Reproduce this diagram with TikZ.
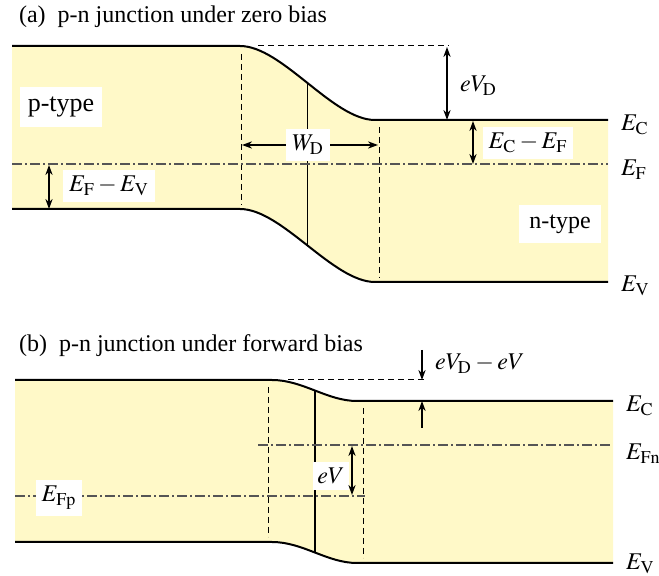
\documentclass[tikz,border=0pt]{standalone}
\usepackage{mathptmx}
\usepackage{fontspec}
\setmainfont{Liberation Serif}
\newfontfamily\labelfont{Liberation Serif}
\usetikzlibrary{arrows.meta}
\definecolor{bandfill}{RGB}{255,249,200}
\definecolor{fermigray}{RGB}{85,85,85}

\begin{document}
\begin{tikzpicture}[
    x=0.5pt,y=-0.5pt,>={Stealth[length=5pt,width=3.6pt]},
    font=\labelfont\fontsize{12}{14}\selectfont,
    band/.style={draw=black,line width=1pt},
    guide/.style={draw=black,line width=0.5pt,dash pattern=on 3pt off 2pt},
    fermi/.style={draw=fermigray,line width=0.8pt,dash pattern=on 5pt off 1.5pt on 1pt off 1.5pt},
    gap/.style={<->,line width=0.7pt},
    tag/.style={fill=white,inner xsep=3pt,inner ysep=3pt},
    title/.style={anchor=base west,font=\labelfont\fontsize{12}{14}\selectfont}
]
\useasboundingbox (0,0) rectangle (659,576);
% (a) zero bias: bands.
\fill[bandfill] (12,46) -- (240,46) .. controls (282,46) and (333,120) .. (375,120)
    -- (608,120) -- (608,282) -- (375,282)
    .. controls (333,282) and (282,209) .. (240,209) -- (12,209) -- cycle;
\draw[band] (12,46) -- (240,46) .. controls (282,46) and (333,120) .. (375,120)
    coordinate[pos=0.5] (ecmidA) -- (608,120);
\draw[band] (12,209) -- (240,209) .. controls (282,209) and (333,282) .. (375,282)
    coordinate[pos=0.5] (evmidA) -- (608,282);
\draw[line width=0.7pt] (ecmidA) -- (evmidA);
% Depletion edges and Fermi level.
\draw[guide] (241,54) -- (241,205);
\draw[guide] (379,127) -- (379,278);
\draw[guide] (258,46) -- (449,46);
\draw[fermi] (12,164) -- (608,164);
% Gap markers.
\node[tag] (cfA) at (528,143) {$E_{\mathrm{C}}-E_{\mathrm{F}}$};
\node[tag] (wdA) at (308,145) {$W_{\mathrm{D}}$};
\node[tag] (fvA) at (109,186) {$E_{\mathrm{F}}-E_{\mathrm{V}}$};
\node[anchor=west] (vdA) at (453,86) {$eV_{\mathrm{D}}$};
\coordinate (vdtopA) at (447,47);
\coordinate (vdbotA) at (447,120);
\draw[gap] (vdtopA) -- (vdbotA);
\coordinate (cftopA) at (473,121);
\coordinate (cfbotA) at (473,164);
\draw[gap] (cftopA) -- (cfbotA);
\coordinate (wleftA) at (242,145);
\coordinate (wrightA) at (378,145);
\draw[->,line width=0.7pt] (wdA.west |- wleftA) -- (wleftA);
\draw[->,line width=0.7pt] (wdA.east |- wrightA) -- (wrightA);
\coordinate (fvtopA) at (49,165);
\coordinate (fvbotA) at (49,209);
\draw[gap] (fvtopA) -- (fvbotA);
\node[tag,inner xsep=4pt,inner ysep=5pt,font=\labelfont\fontsize{13}{15}\selectfont] (ptype) at (61,107) {p-type};
\node[tag,inner xsep=5pt,inner ysep=5pt] (ntype) at (560,224) {n-type};
% Level names, right side.
\node[anchor=base west] (ecA) at (614,131) {$E_{\mathrm{C}}$};
\node[anchor=base west] (efA) at (614,176) {$E_{\mathrm{F}}$};
\node[anchor=base west] (evA) at (614,292) {$E_{\mathrm{V}}$};
\node[title] (titleA) at (12,23) {(a)\ \ p-n junction under zero bias};
% (b) forward bias: bands.
\fill[bandfill] (15,380) -- (272,380) .. controls (303,380) and (327,401) .. (357,401)
    -- (613,401) -- (613,563) -- (357,563)
    .. controls (327,563) and (303,542) .. (272,542) -- (15,542) -- cycle;
\draw[band] (15,380) -- (272,380) .. controls (303,380) and (327,401) .. (357,401)
    coordinate[pos=0.5] (ecmidB) -- (613,401);
\draw[band] (15,542) -- (272,542) .. controls (303,542) and (327,563) .. (357,563)
    coordinate[pos=0.5] (evmidB) -- (613,563);
\draw[line width=0.7pt] (ecmidB) -- (evmidB);
% Depletion edges and quasi-Fermi levels.
\draw[guide] (268,387) -- (268,537);
\draw[guide] (363,408) -- (363,558);
\draw[guide] (288,380) -- (427,380);
\draw[fermi] (258,445) -- (613,445);
\draw[fermi] (15,496) -- (365,496);
% Barrier and splitting markers.
\node[tag,inner xsep=2pt] (evlabB) at (331,476) {$eV$};
\node[tag] (fpB) at (59,498) {$E_{\mathrm{Fp}}$};
\coordinate (downtail) at (422,350);
\coordinate (downtip) at (422,380);
\draw[->,line width=0.7pt] (downtail) -- (downtip);
\coordinate (uptail) at (422,428);
\coordinate (uptip) at (422,401);
\draw[->,line width=0.7pt] (uptail) -- (uptip);
\node[anchor=west] (barrierB) at (428,364) {$eV_{\mathrm{D}}-eV$};
\coordinate (evtopB) at (352,446);
\coordinate (evbotB) at (352,495);
\draw[gap] (evtopB) -- (evbotB);
% Level names, right side.
\node[anchor=base west] (ecB) at (619,412) {$E_{\mathrm{C}}$};
\node[anchor=base west] (efnB) at (619,460) {$E_{\mathrm{Fn}}$};
\node[anchor=base west] (evB) at (619,570) {$E_{\mathrm{V}}$};
\node[title] (titleB) at (12,352) {(b)\ \ p-n junction under forward bias};
\end{tikzpicture}
\end{document}
